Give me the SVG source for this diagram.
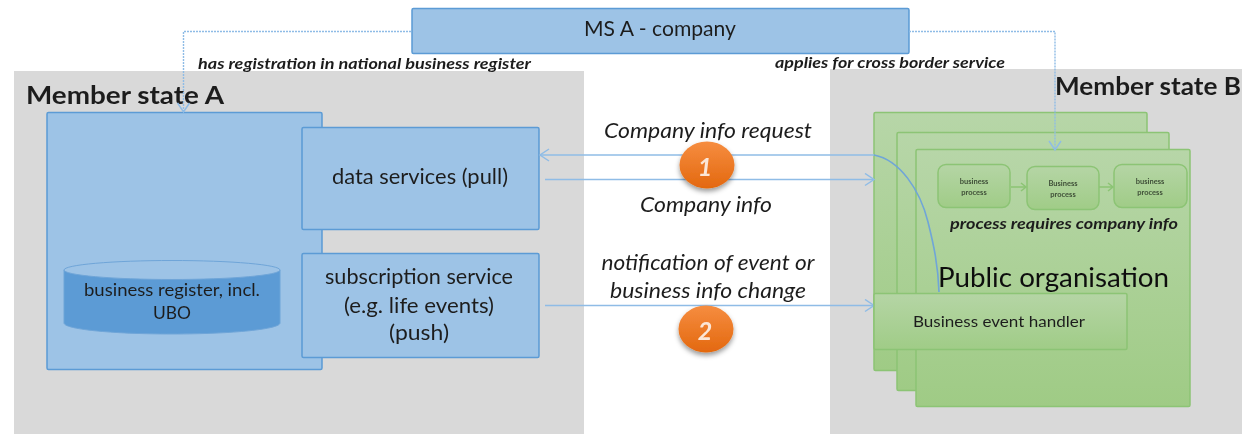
<svg xmlns="http://www.w3.org/2000/svg" width="1242" height="434" viewBox="0 0 1242 434">
<style>
text{font-family:Lato,"Noto Sans","Liberation Sans",sans-serif;fill:#1f1f1f}
.c{text-anchor:middle}
.i{font-style:italic}
.b{font-weight:700}
.blue{fill:#9dc3e6;stroke:#5b9bd5;stroke-width:1.5}
.green{fill:url(#gg);stroke:#8cc474;stroke-width:1.5}
.proc{fill:url(#gp);stroke:#8cc474;stroke-width:1.5}
.gray{fill:#d9d9d9}
.line{fill:none;stroke:#8fbce6;stroke-width:1.6}
.dot{fill:none;stroke:#8fbce6;stroke-width:1.4;stroke-dasharray:2 1}
.mini{fill:#3f4f38;font-size:7.500px;font-weight:700}
.gl{fill:none;stroke:#8cc474;stroke-width:1.5}
</style>
<defs>
<linearGradient id="gg" x1="0" y1="0" x2="0" y2="1"><stop offset="0" stop-color="#b7d6a8"/><stop offset="1" stop-color="#9fcb85"/></linearGradient>
<linearGradient id="gp" x1="0" y1="0" x2="0" y2="1"><stop offset="0" stop-color="#b5d5a5"/><stop offset="1" stop-color="#a0cc87"/></linearGradient>
<linearGradient id="go" x1="0" y1="0" x2="0" y2="1"><stop offset="0" stop-color="#f68d40"/><stop offset="1" stop-color="#e3680f"/></linearGradient>
<filter id="soft" x="-2%" y="-2%" width="104%" height="104%"><feGaussianBlur stdDeviation="0.7"/></filter>
<filter id="sh" x="-30%" y="-30%" width="160%" height="170%"><feDropShadow dx="0" dy="3" stdDeviation="2.5" flood-color="#000" flood-opacity="0.4"/></filter>
<marker id="arr" markerWidth="12" markerHeight="14" refX="10" refY="7" orient="auto" markerUnits="userSpaceOnUse"><path d="M1 1 L10 7 L1 13" fill="none" stroke="#8fbce6" stroke-width="1.5"/></marker>
</defs>
<g filter="url(#soft)">
<g id="member-state-a"><rect class="gray" x="14" y="71" width="570" height="363"/><text class="b" x="26" y="104" font-size="25" textLength="198" lengthAdjust="spacingAndGlyphs">Member state A</text></g>
<g id="member-state-b"><rect class="gray" x="830" y="69" width="412" height="365"/><text class="b" x="1055" y="95" font-size="25" textLength="186" lengthAdjust="spacingAndGlyphs">Member state B</text></g>
<g id="ms-a-company"><rect class="blue" x="412" y="8.500" width="497" height="45" rx="1.500"/><text class="c" x="660" y="36" font-size="22" textLength="152" lengthAdjust="spacingAndGlyphs">MS A - company</text></g>
<g id="register-block"><rect class="blue" x="47" y="112.500" width="275" height="257" rx="1.500"/></g>
<g id="business-register">
<path d="M64 270 V323 C64 329 110 334 172 334 S280 329 280 323 V270Z" fill="#5b9bd5" stroke="#6fa5d8"/>
<ellipse cx="172" cy="270" rx="108" ry="9.500" fill="#9dc3e6" stroke="#6fa5d8"/>
<text class="c" x="172" y="296" font-size="18" textLength="176" lengthAdjust="spacingAndGlyphs">business register, incl.</text>
<text class="c" x="172" y="319" font-size="18" textLength="38" lengthAdjust="spacingAndGlyphs">UBO</text>
</g>
<g id="data-services"><rect class="blue" x="302" y="127.500" width="237" height="102" rx="1.500"/><text class="c" x="420" y="184" font-size="21" textLength="176" lengthAdjust="spacingAndGlyphs">data services (pull)</text></g>
<g id="subscription-service"><rect class="blue" x="302" y="253.500" width="237" height="104" rx="1.500"/>
<text class="c" x="419" y="284" font-size="21" textLength="188" lengthAdjust="spacingAndGlyphs">subscription service</text>
<text class="c" x="419" y="313" font-size="21" textLength="150" lengthAdjust="spacingAndGlyphs">(e.g. life events)</text>
<text class="c" x="419" y="340" font-size="21" textLength="60" lengthAdjust="spacingAndGlyphs">(push)</text></g>
<g id="public-org-back-2"><rect class="green" x="874" y="112.500" width="273" height="258" rx="1.500"/></g>
<g id="public-org-back-1"><rect class="green" x="897" y="132.500" width="272" height="258" rx="1.500"/></g>
<g id="public-org"><rect class="green" x="916" y="149.500" width="274" height="257" rx="1.500"/>
<text x="938" y="287" font-size="27" textLength="231" lengthAdjust="spacingAndGlyphs" style="fill:#111">Public organisation</text>
<text class="i b" x="950" y="229" font-size="16" textLength="228" lengthAdjust="spacingAndGlyphs">process requires company info</text></g>
<g id="process-1"><rect class="proc" x="938" y="164.500" width="72" height="43" rx="8"/><text class="c mini" x="974" y="184">business</text><text class="c mini" x="974" y="195">process</text></g>
<g id="process-2"><rect class="proc" x="1027" y="166.500" width="72" height="43" rx="8"/><text class="c mini" x="1063" y="186">Business</text><text class="c mini" x="1063" y="197">process</text></g>
<g id="process-3"><rect class="proc" x="1114" y="164.500" width="73" height="43" rx="8"/><text class="c mini" x="1150" y="184">business</text><text class="c mini" x="1150" y="195">process</text></g>
<g id="connectors">
<path class="dot" d="M411 31.500 H183.500 V112" marker-end="url(#arr)"/>
<path class="dot" d="M909 31.500 H1055 V150" marker-end="url(#arr)"/>
<path class="line" d="M874 155 H540" marker-end="url(#arr)"/>
<path class="line" style="stroke:#6fa5d8" d="M874 155 C900 160 920 190 928 222 C934 246 938 265 939 292"/>
<path class="line" d="M545 179.500 H874" marker-end="url(#arr)"/>
<path class="line" d="M545 305.500 H874" marker-end="url(#arr)"/>
<path class="gl" d="M1011 187 H1026 M1021 183 L1026 187 L1021 191"/>
<path class="gl" d="M1099 187 H1113 M1108 183 L1113 187 L1108 191"/>
</g>
<g id="business-event-handler"><rect class="proc" x="874" y="293.500" width="253" height="56" rx="1.500"/><text class="c" x="999" y="327" font-size="16" textLength="172" lengthAdjust="spacingAndGlyphs">Business event handler</text></g>
<g id="labels">
<text class="i b" x="198" y="69" font-size="16" textLength="333" lengthAdjust="spacingAndGlyphs">has registration in national business register</text>
<text class="i b" x="775" y="68" font-size="16" textLength="230" lengthAdjust="spacingAndGlyphs">applies for cross border service</text>
<text class="i c" x="708" y="138" font-size="21" textLength="208" lengthAdjust="spacingAndGlyphs">Company info request</text>
<text class="i c" x="706" y="212" font-size="21" textLength="132" lengthAdjust="spacingAndGlyphs">Company info</text>
<text class="i c" x="708" y="270" font-size="21" textLength="213" lengthAdjust="spacingAndGlyphs">notification of event or</text>
<text class="i c" x="708" y="298" font-size="21" textLength="196" lengthAdjust="spacingAndGlyphs">business info change</text>
</g>
<g id="badge-1"><ellipse cx="707" cy="165" rx="27.500" ry="23.500" fill="url(#go)" filter="url(#sh)"/><text class="c i b" x="705" y="176" font-size="25" style="fill:#fbe6d6">1</text></g>
<g id="badge-2"><ellipse cx="706" cy="329" rx="27.500" ry="23.500" fill="url(#go)" filter="url(#sh)"/><text class="c i b" x="705" y="340" font-size="25" style="fill:#fbe6d6">2</text></g>
</g>
</svg>
